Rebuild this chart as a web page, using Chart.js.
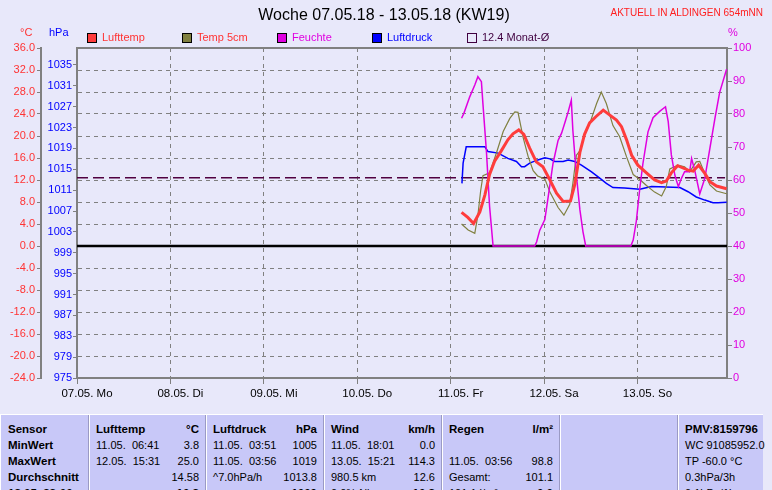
<!DOCTYPE html>
<html>
<head>
<meta charset="utf-8">
<script src="https://cdn.jsdelivr.net/npm/chart.js@4"></script>
<style>
  body { margin: 0; background: #e8e8fa; font-family: "Liberation Sans", Arial, sans-serif; }
  #wrap { position: relative; width: 772px; height: 490px; overflow: hidden; }
  #chart { position: absolute; left: 0; top: 0; }
  .lbl { position: absolute; white-space: nowrap; line-height: 1; }
  .box { position: absolute; top: 33px; width: 10px; height: 10px; box-sizing: border-box; border: 1px solid #000; }
  #stats { position: absolute; left: 0; top: 414px; width: 763px; height: 80px; background: #c8c8f8;
           border-top: 1px solid #fff; border-left: 1px solid #fff; box-sizing: border-box; font-size: 11px; }
  .col { position: absolute; top: 0; bottom: 0; padding-top: 6px; box-sizing: border-box; }
  .sep { border-left: 1px solid #9a9ac4; box-shadow: inset 1px 0 #fff; }
  .row { height: 16px; line-height: 16px; display: flex; justify-content: space-between; padding: 0 6px 0 7px; white-space: nowrap; }
  .b { font-weight: bold; font-size: 11.5px; }
</style>
</head>
<body>
<div id="wrap">
  <canvas id="chart" width="772" height="410"></canvas>

  <div class="lbl" style="left:0;width:768px;text-align:center;top:7px;font-size:16px;color:#000">Woche 07.05.18 - 13.05.18 (KW19)</div>
  <div class="lbl" style="right:9px;top:8px;font-size:10px;color:#ff2020">AKTUELL IN ALDINGEN 654mNN</div>

  <div class="lbl" style="left:20px;top:27px;font-size:11px;color:#ff3333">°C</div>
  <div class="lbl" style="left:49px;top:27px;font-size:11px;color:#0000ff">hPa</div>
  <div class="lbl" style="left:728px;top:27px;font-size:11px;color:#e000e0">%</div>

  <div class="box" style="left:87px;background:#ff3c3c"></div>
  <div class="lbl" style="left:102px;top:32px;font-size:11px;color:#ff3333">Lufttemp</div>
  <div class="box" style="left:182px;background:#808040"></div>
  <div class="lbl" style="left:197px;top:32px;font-size:11px;color:#ff3333">Temp 5cm</div>
  <div class="box" style="left:277px;background:#e000e0"></div>
  <div class="lbl" style="left:292px;top:32px;font-size:11px;color:#e000e0">Feuchte</div>
  <div class="box" style="left:372px;background:#0000ff"></div>
  <div class="lbl" style="left:387px;top:32px;font-size:11px;color:#0000ff">Luftdruck</div>
  <div class="box" style="left:467px;background:transparent;border-color:#400040"></div>
  <div class="lbl" style="left:482px;top:32px;font-size:11px;color:#400040">12.4 Monat-Ø</div>

  <div id="stats">
    <div class="col" style="left:0;width:87px">
      <div class="row b"><span>Sensor</span></div>
      <div class="row b"><span>MinWert</span></div>
      <div class="row b"><span>MaxWert</span></div>
      <div class="row b"><span>Durchschnitt</span></div>
      <div class="row b"><span>13.05. 23:00</span></div>
    </div>
    <div class="col sep" style="left:87px;width:117px">
      <div class="row b"><span>Lufttemp</span><span>°C</span></div>
      <div class="row"><span>11.05.&nbsp; 06:41</span><span>3.8</span></div>
      <div class="row"><span>12.05.&nbsp; 15:31</span><span>25.0</span></div>
      <div class="row"><span></span><span>14.58</span></div>
      <div class="row b"><span></span><span>10.3</span></div>
    </div>
    <div class="col sep" style="left:204px;width:118px">
      <div class="row b"><span>Luftdruck</span><span>hPa</span></div>
      <div class="row"><span>11.05.&nbsp; 03:51</span><span>1005</span></div>
      <div class="row"><span>11.05.&nbsp; 03:56</span><span>1019</span></div>
      <div class="row"><span>^7.0hPa/h</span><span>1013.8</span></div>
      <div class="row b"><span></span><span>1009</span></div>
    </div>
    <div class="col sep" style="left:322px;width:118px">
      <div class="row b"><span>Wind</span><span>km/h</span></div>
      <div class="row"><span>11.05.&nbsp; 18:01</span><span>0.0</span></div>
      <div class="row"><span>13.05.&nbsp; 15:21</span><span>114.3</span></div>
      <div class="row"><span>980.5 km</span><span>12.6</span></div>
      <div class="row"><span>0.0% Nb</span><span class="b">10.3</span></div>
    </div>
    <div class="col sep" style="left:440px;width:118px">
      <div class="row b"><span>Regen</span><span>l/m²</span></div>
      <div class="row"><span></span><span></span></div>
      <div class="row"><span>11.05.&nbsp; 03:56</span><span>98.8</span></div>
      <div class="row"><span>Gesamt:</span><span>101.1</span></div>
      <div class="row"><span>101.1 l/m²</span><span class="b">0.0</span></div>
    </div>
    <div class="col sep" style="left:558px;width:118px"></div>
    <div class="col sep" style="left:676px;width:87px">
      <div class="row b"><span>PMV:8159796</span></div>
      <div class="row"><span>WC 91085952.0</span></div>
      <div class="row"><span>TP -60.0 °C</span></div>
      <div class="row"><span>0.3hPa/3h</span></div>
      <div class="row"><span>0.1hPa/1h</span></div>
    </div>
  </div>
</div>

<script>
// Time axis: hours since 07.05. 00:00
const dayTicks = [0, 24, 48, 72, 96, 120, 144];
const dayLabels = ["07.05. Mo", "08.05. Di", "09.05. Mi", "10.05. Do", "11.05. Fr", "12.05. Sa", "13.05. So"];
const pressureTicks = [975, 979, 983, 987, 991, 995, 999, 1003, 1007, 1011, 1015, 1019, 1023, 1027, 1031, 1035];

// Lufttemp (°C)
const airHours = [98.8, 100.4, 101.9, 103.5, 104.8, 106.0, 107.3, 109.0, 110.7, 112.0, 113.5, 114.8, 116.3, 118.0, 119.7,
  121.5, 123.2, 124.9, 126.8, 127.9, 129.2, 130.4, 131.7, 133.3, 135.2, 136.9, 138.6, 139.9, 141.2, 142.5, 144.1,
  146.3, 148.4, 150.2, 151.4, 152.7, 154.3, 157.0, 158.3, 159.7, 161.3, 162.6, 164.3, 166.9];
const airTemp = [6.1, 5.2, 4.1, 6.2, 9.3, 13.0, 15.4, 17.3, 19.3, 20.4, 21.1, 20.3, 17.8, 15.3, 14.4,
  12.0, 9.6, 8.1, 8.2, 11.2, 17.0, 20.3, 22.4, 23.5, 24.7, 23.8, 22.9, 21.7, 19.3, 16.5, 14.7,
  13.3, 12.0, 11.5, 11.8, 13.3, 14.6, 13.8, 13.6, 14.7, 13.2, 11.7, 10.9, 10.4];

// Temp 5cm (°C)
const soilHours = [98.8, 100.5, 102.2, 103.0, 103.7, 104.3, 106.0, 107.8, 109.5, 111.2, 112.5, 113.3, 114.6, 115.9, 117.2,
  118.4, 120.2, 121.5, 123.6, 125.1, 126.6, 127.4, 128.3, 129.2, 130.4, 131.7, 133.5, 134.7, 136.0, 137.7, 139.4,
  141.2, 142.9, 144.6, 146.3, 148.4, 150.2, 151.4, 152.3, 154.4, 156.1, 157.4, 159.1, 160.0, 161.3, 162.6, 164.3, 166.9];
const soilTemp = [4.0, 2.9, 2.3, 5.6, 10.0, 12.8, 13.3, 17.0, 20.8, 23.2, 24.4, 24.3, 19.8, 16.3, 13.7,
  12.7, 12.2, 9.8, 7.0, 5.6, 7.6, 11.4, 16.5, 17.3, 20.2, 22.2, 25.9, 28.0, 25.9, 21.9, 19.9,
  16.2, 13.0, 12.1, 11.0, 9.8, 9.1, 10.8, 14.0, 14.7, 14.4, 13.5, 15.3, 15.4, 13.2, 11.1, 10.0, 9.5];

// Feuchte (%)
const humHours = [98.8, 99.4, 100.9, 102.2, 103.0, 103.9, 104.3, 105.2, 106.0, 106.9, 117.6, 118.1, 118.9, 120.2, 121.0,
  122.3, 123.6, 124.5, 125.3, 126.2, 127.0, 127.4, 128.3, 129.2, 130.0, 130.7, 142.3, 142.9, 143.7, 144.6, 145.4,
  146.7, 148.0, 149.7, 151.2, 151.9, 152.7, 153.6, 154.5, 155.3, 156.1, 157.4, 157.9, 158.7, 160.0, 161.3, 162.6,
  163.9, 165.1, 166.9];
const humidity = [78.7, 80.2, 85.2, 88.8, 91.3, 89.8, 83.0, 68.5, 52.0, 40.0, 40.0, 41.3, 44.8, 48.0, 54.4,
  65.0, 72.0, 74.2, 77.2, 80.7, 84.2, 75.0, 61.5, 51.0, 44.3, 40.0, 40.0, 41.8, 47.5, 57.5, 65.0,
  74.6, 78.9, 80.8, 82.2, 77.7, 67.6, 61.5, 58.0, 60.5, 62.5, 62.5, 66.5, 63.0, 55.8, 60.5, 69.6,
  78.7, 86.5, 93.6];

// Luftdruck (hPa)
const presHours = [98.9, 99.2, 100.0, 104.8, 105.6, 108.2, 110.7, 112.9, 114.2, 115.0, 116.3, 118.4, 120.2, 121.5, 122.7,
  124.9, 126.2, 127.9, 129.6, 132.2, 134.3, 136.0, 137.7, 140.7, 144.6, 147.6, 154.9, 157.0, 159.1, 161.3, 163.4,
  164.7, 166.9];
const pressure = [1012.3, 1016.2, 1019.3, 1019.3, 1018.4, 1018.1, 1017.1, 1016.5, 1015.5, 1015.5, 1016.2, 1016.8, 1017.2, 1017.0, 1016.5,
  1016.5, 1016.8, 1016.5, 1015.8, 1014.5, 1013.3, 1012.3, 1011.5, 1011.4, 1011.2, 1011.7, 1011.5, 1010.7, 1009.7, 1009.1, 1008.6,
  1008.6, 1008.7];

const monthAvgTemp = 12.4;
const monthAvgHours = [0, 166.5];
const zeroHours = [0, 167];

const pts = (xs, ys) => xs.map((x, i) => ({ x: x, y: ys[i] }));
const gridGray = "#808080";

Chart.defaults.font.family = '"Liberation Sans", Arial, sans-serif';

// gray frame round the plot area
const framePlugin = {
  id: "frame",
  beforeDatasetsDraw(chart) {
    const { ctx, chartArea: a } = chart;
    ctx.save();
    ctx.strokeStyle = gridGray;
    ctx.lineWidth = 2;
    ctx.strokeRect(a.left, a.top, a.right - a.left, a.bottom - a.top);
    ctx.restore();
  }
};

new Chart(document.getElementById("chart"), {
  type: "line",
  data: {
    datasets: [
      { label: "Lufttemp", data: pts(airHours, airTemp), yAxisID: "yT", borderColor: "#ff3c3c", borderWidth: 3 },
      { label: "Feuchte", data: pts(humHours, humidity), yAxisID: "yH", borderColor: "#e000e0", borderWidth: 1.5 },
      { label: "Temp 5cm", data: pts(soilHours, soilTemp), yAxisID: "yT", borderColor: "#808040", borderWidth: 1.2 },
      { label: "Luftdruck", data: pts(presHours, pressure), yAxisID: "yP", borderColor: "#0000ff", borderWidth: 1.5 },
      { label: "12.4 Monat-Ø", data: monthAvgHours.map(h => ({ x: h, y: monthAvgTemp })), yAxisID: "yT",
        borderColor: "#500040", borderWidth: 1.5, borderDash: [11, 5] },
      { label: "0", data: zeroHours.map(h => ({ x: h, y: 0 })), yAxisID: "yT", borderColor: "#000", borderWidth: 2.5 }
    ]
  },
  options: {
    responsive: false,
    animation: false,
    layout: { padding: { top: 48, left: 0, right: 0, bottom: 0 } },
    elements: { point: { radius: 0 }, line: { tension: 0 } },
    plugins: { legend: { display: false }, tooltip: { enabled: false } },
    scales: {
      x: {
        type: "linear", min: 0, max: 167,
        afterBuildTicks: s => { s.ticks = dayTicks.map(v => ({ value: v })); },
        afterFit: s => { s.height = 32; },
        grid: { color: gridGray, tickColor: gridGray, tickLength: 6 },
        border: { color: gridGray, width: 2, dash: [4, 4] },
        ticks: { color: "#000", font: { size: 11.5 }, padding: 3, labelOffset: 10, maxRotation: 0, autoSkip: false,
                 callback: (v, i) => dayLabels[i] }
      },
      yT: {
        position: "left", weight: 2, min: -24, max: 36,
        afterFit: s => { s.width = 41; },
        grid: { color: gridGray, tickColor: gridGray, tickLength: 4 },
        border: { color: gridGray, width: 2, dash: [4, 4] },
        ticks: { stepSize: 4, color: "#ff3333", font: { size: 11 }, padding: 2, callback: v => v.toFixed(1) }
      },
      yP: {
        position: "left", weight: 1, min: 975, max: 1038.25,
        afterBuildTicks: s => { s.ticks = pressureTicks.map(v => ({ value: v })); },
        afterFit: s => { s.width = 36; },
        grid: { drawOnChartArea: false, tickColor: gridGray, tickLength: 4 },
        border: { color: gridGray, width: 2 },
        ticks: { color: "#0000ff", font: { size: 11 }, padding: 1, callback: v => String(v) }
      },
      yH: {
        position: "right", min: 0, max: 100,
        afterFit: s => { s.width = 45; },
        grid: { drawOnChartArea: false, tickColor: gridGray, tickLength: 5 },
        border: { color: gridGray, width: 2 },
        ticks: { stepSize: 10, color: "#e000e0", font: { size: 11 }, padding: 1 }
      }
    }
  },
  plugins: [framePlugin]
});
</script>
</body>
</html>
